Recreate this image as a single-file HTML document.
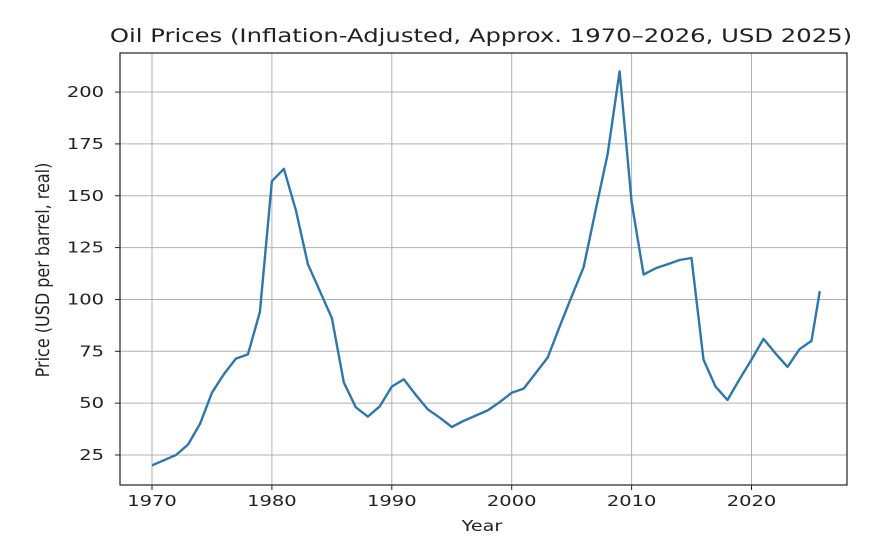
<!DOCTYPE html>
<html><head><meta charset="utf-8"><style>
html,body{margin:0;padding:0;background:#fff;}
svg{display:block;font-family:"DejaVu Sans","Liberation Sans",sans-serif;}
</style></head><body>
<svg id="s" width="881" height="544" xmlns="http://www.w3.org/2000/svg">
<rect width="881" height="544" fill="#fff"/>
<g id="grid" stroke="#b0b0b0" stroke-width="1"></g>
<g id="ticks" fill="#222" font-size="15"></g>
<polyline id="line" fill="none" stroke="#2f77a8" stroke-width="2.4" stroke-linejoin="round"/>
<rect x="120" y="53" width="727" height="432" fill="none" stroke="#222" stroke-width="1.2"/>
<text transform="translate(481,42) scale(1.28,1)" font-size="19" text-anchor="middle" fill="#222">Oil Prices (Inflation-Adjusted, Approx. 1970–2026, USD 2025)</text>
<text transform="translate(482,531) scale(1.28,1)" font-size="15" text-anchor="middle" fill="#222">Year</text>
<text transform="translate(49,270) rotate(-90) scale(1.0,1.15)" font-size="16" text-anchor="middle" fill="#222">Price (USD per barrel, real)</text>
</svg>
<script>
var X=function(y){return 152+(y-1970)*11.99;};
var Y=function(v){return 455-(v-25)*2.074;};
var g=document.getElementById('grid'),t=document.getElementById('ticks'),ns='http://www.w3.org/2000/svg';
function el(p,n,a,txt){var e=document.createElementNS(ns,n);for(var k in a)e.setAttribute(k,a[k]);if(txt)e.textContent=txt;p.appendChild(e);}
for(var yr=1970;yr<=2020;yr+=10){var x=X(yr);el(g,'line',{x1:x,x2:x,y1:53,y2:485});el(g,'line',{x1:x,x2:x,y1:485,y2:490,stroke:'#222'});el(t,'text',{transform:'translate('+x+',506) scale(1.3,1)','text-anchor':'middle'},''+yr);}
for(var v=25;v<=200;v+=25){var y=Y(v);el(g,'line',{x1:120,x2:847,y1:y,y2:y});el(g,'line',{x1:115,x2:120,y1:y,y2:y,stroke:'#222'});el(t,'text',{transform:'translate(104,'+(y+5)+') scale(1.3,1)','text-anchor':'end'},''+v);}
var d=[[1970,20],[1971,22.5],[1972,25],[1973,30],[1974,40],[1975,55],[1976,64],[1977,71.5],[1978,73.5],[1979,94],[1980,157],[1981,163],[1982,143],[1983,117],[1984,104],[1985,91],[1986,60],[1987,48],[1988,43.5],[1989,48.5],[1990,58],[1991,61.5],[1992,54],[1993,47],[1994,43],[1995,38.5],[1996,41.5],[1997,44],[1998,46.5],[1999,50.5],[2000,55],[2001,57],[2002,64.5],[2003,72],[2004,87],[2005,101.5],[2006,115.5],[2007,143],[2008,170],[2009,210],[2010,147],[2011,112],[2012,115],[2013,117],[2014,119],[2015,120],[2016,71],[2017,58],[2018,51.5],[2019,61.5],[2020,71],[2021,81],[2022,74],[2023,67.5],[2024,76],[2025,80],[2025.7,104]];
document.getElementById('line').setAttribute('points',d.map(function(p){return X(p[0]).toFixed(1)+','+Y(p[1]).toFixed(1);}).join(' '));
</script>
</body></html>
